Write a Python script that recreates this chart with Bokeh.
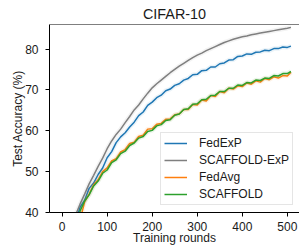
from bokeh.plotting import figure
from bokeh.models import Legend, LegendItem, FixedTicker, Span, Range1d
from bokeh.embed import file_html
from bokeh.resources import INLINE

title_text = "CIFAR-10"
x_label = "Training rounds"
y_label = "Test Accuracy (%)"
x_ticks = [0, 100, 200, 300, 400, 500]
y_ticks = [40, 50, 60, 70, 80]

rounds = [0, 10, 20, 30, 40, 50, 60, 70, 80, 90,
          100, 110, 120, 130, 140, 150, 160, 170, 180, 190,
          200, 210, 220, 230, 240, 250, 260, 270, 280, 290,
          300, 310, 320, 330, 340, 350, 360, 370, 380, 390,
          400, 410, 420, 430, 440, 450, 460, 470, 480, 490,
          500, 508]

fedexp = [10.0, 20.0, 30.0, 37.8, 41.3, 43.0, 45.9, 47.2, 49.3, 50.9,
          53.4, 54.9, 57.1, 58.5, 59.5, 60.9, 62.1, 63.7, 64.6, 66.2,
          67.0, 68.1, 68.7, 69.8, 70.2, 71.1, 71.5, 72.4, 72.8, 73.7,
          73.8, 74.7, 74.8, 75.6, 75.6, 76.4, 76.6, 77.3, 77.4, 78.2,
          78.3, 78.8, 78.7, 79.2, 79.3, 79.7, 79.6, 80.1, 80.1, 80.5,
          80.4, 80.7]

scaffold_exp = [10.0, 22.0, 32.0, 39.4, 42.1, 44.5, 47.0, 49.1, 51.3, 53.3,
                55.6, 57.5, 59.1, 60.4, 62.0, 63.5, 65.1, 66.3, 67.8, 69.2,
                70.5, 71.5, 72.4, 73.3, 74.2, 75.0, 75.8, 76.5, 77.2, 77.9,
                78.5, 79.0, 79.6, 80.1, 80.6, 81.1, 81.6, 82.0, 82.4, 82.7,
                83.0, 83.2, 83.5, 83.7, 83.9, 84.1, 84.3, 84.5, 84.7, 84.9,
                85.1, 85.3]

fedavg = [10.0, 16.0, 24.0, 32.0, 38.2, 42.6, 44.5, 46.8, 48.0, 50.0,
          50.9, 52.6, 53.2, 54.8, 55.4, 56.9, 57.2, 58.6, 58.9, 60.4,
          60.5, 61.6, 61.8, 62.8, 62.9, 63.9, 64.1, 65.2, 65.2, 66.4,
          66.3, 67.5, 67.3, 68.6, 68.4, 69.6, 69.3, 70.4, 70.2, 71.0,
          70.8, 71.7, 71.4, 72.2, 71.9, 72.8, 72.5, 73.2, 72.9, 73.5,
          73.4, 74.3]

scaffold = [10.0, 18.0, 27.0, 35.5, 40.4, 42.8, 44.3, 46.5, 47.7, 49.6,
            50.4, 52.2, 52.9, 54.4, 55.0, 56.4, 57.0, 58.2, 58.6, 59.8,
            60.1, 61.2, 61.5, 62.5, 62.7, 63.8, 64.1, 65.2, 65.4, 66.5,
            66.6, 67.6, 67.7, 68.6, 68.7, 69.6, 69.6, 70.4, 70.4, 71.2,
            71.1, 71.8, 71.7, 72.4, 72.3, 72.9, 72.8, 73.5, 73.4, 74.0,
            74.0, 74.5]

series = [
    ("FedExP", fedexp, "#1f77b4"),
    ("SCAFFOLD-ExP", scaffold_exp, "#7f7f7f"),
    ("FedAvg", fedavg, "#ff7f0e"),
    ("SCAFFOLD", scaffold, "#2ca02c"),
]

FONT = "Liberation Sans"
TXT = "#1a1a1a"

p = figure(width=299, height=247, output_backend="svg", toolbar_location=None,
           x_range=Range1d(-28, 527), y_range=Range1d(40, 86),
           min_border_left=49, min_border_right=0, min_border_top=23,
           min_border_bottom=35)

p.title.text = title_text
p.title.align = "center"
p.title.text_font = FONT
p.title.text_font_size = "14.4px"
p.title.text_font_style = "normal"
p.title.text_color = TXT
p.title.standoff = 6

p.grid.visible = False
p.outline_line_color = None
p.background_fill_color = "white"
p.border_fill_color = "white"

for ax in (p.xaxis[0], p.yaxis[0]):
    ax.axis_line_color = "black"
    ax.axis_line_width = 1
    ax.major_tick_line_color = "black"
    ax.major_tick_in = 0
    ax.major_tick_out = 4
    ax.minor_tick_line_color = None
    ax.major_label_text_font = FONT
    ax.major_label_text_font_size = "12px"
    ax.major_label_text_color = TXT
    ax.axis_label_text_font = FONT
    ax.axis_label_text_font_size = "12px"
    ax.axis_label_text_font_style = "normal"
    ax.axis_label_text_color = TXT

p.xaxis.ticker = FixedTicker(ticks=x_ticks)
p.yaxis.ticker = FixedTicker(ticks=y_ticks)
p.xaxis.axis_label = x_label
p.xaxis.major_label_standoff = 5
p.xaxis.axis_label_standoff = -3
p.yaxis.axis_label = y_label
p.yaxis.major_label_standoff = 7
p.yaxis.axis_label_standoff = -3

top_spine = Span(location=p.y_range.end, dimension="width", line_color="black", line_width=1)
p.add_layout(top_spine)

items = []
for name, ys, color in series:
    p.line(rounds, ys, line_color=color, line_width=4.5, line_alpha=0.09)
    r = p.line(rounds, ys, line_color=color, line_width=1.5)
    items.append(LegendItem(label=name, renderers=[r]))

legend = Legend(items=items, location=(111, 7))
legend.label_text_font = FONT
legend.label_text_font_size = "12px"
legend.label_text_color = TXT
legend.glyph_width = 23
legend.glyph_height = 14
legend.label_height = 14
legend.label_standoff = 12
legend.spacing = 3
legend.padding = 3
legend.margin = 0
legend.border_line_color = "#cccccc"
legend.border_line_width = 1
legend.background_fill_alpha = 0.85
p.add_layout(legend)

open("out.html", "w").write(file_html(p, INLINE))
